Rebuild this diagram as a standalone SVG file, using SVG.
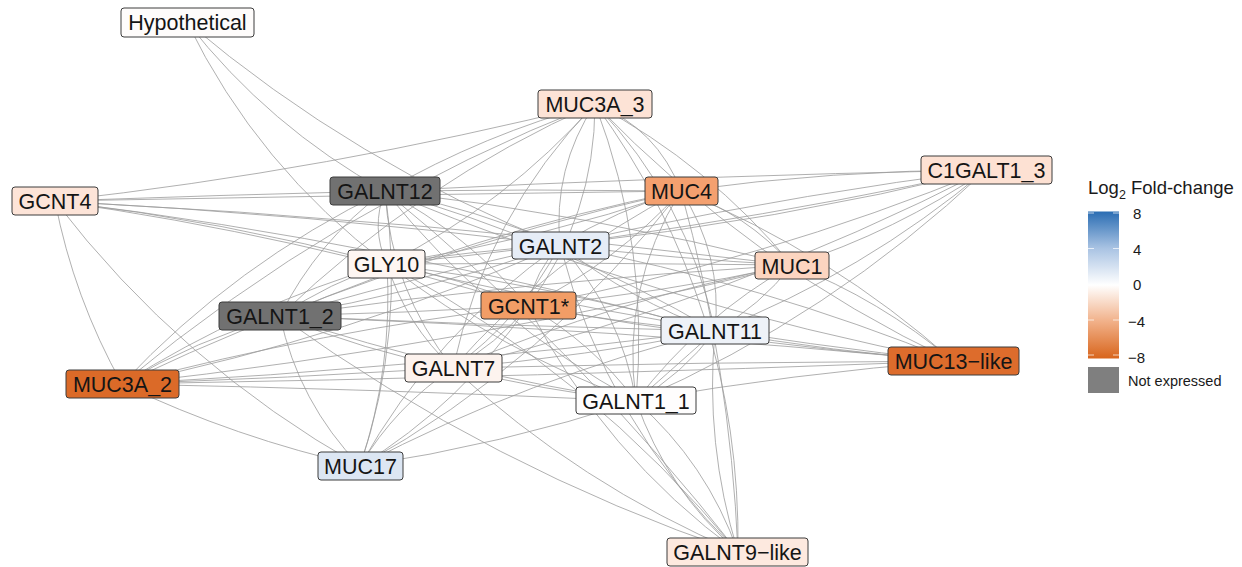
<svg xmlns="http://www.w3.org/2000/svg" width="1242" height="567" viewBox="0 0 1242 567">
<defs>
<linearGradient id="fc" x1="0" y1="0" x2="0" y2="1">
<stop offset="0" stop-color="#2a6db3"/>
<stop offset="0.25" stop-color="#a9c3e3"/>
<stop offset="0.5" stop-color="#ffffff"/>
<stop offset="0.75" stop-color="#f1b088"/>
<stop offset="1" stop-color="#d8651c"/>
</linearGradient>
<style>
.e path{fill:none;stroke:#9c9c9c;stroke-width:0.8}
.n rect{stroke:#3c3c3c;stroke-width:1}
.n text{font-family:"Liberation Sans",Arial,sans-serif;font-size:21.5px;fill:#151515;text-anchor:middle}
.lg text{font-family:"Liberation Sans",Arial,sans-serif;fill:#1a1a1a}
.tk{stroke:#ffffff;stroke-opacity:0.7;stroke-width:1}
</style>
</defs>
<rect width="1242" height="567" fill="#ffffff"/>
<g id="edges" class="e">
<path d="M187 22 Q268.9 126.6 385 191"/>
<path d="M187 22 Q257.8 167.1 387 264"/>
<path d="M187 22 Q355.1 164.2 560 245"/>
<path d="M595 104 Q328.2 170.6 55 201"/>
<path d="M385 191 Q220 195 55 201"/>
<path d="M681 191 Q368 195 55 201"/>
<path d="M55 201 Q223.2 220.8 387 264"/>
<path d="M55 201 Q295.7 234.6 528 306"/>
<path d="M55 201 Q308.3 214.1 560 245"/>
<path d="M55 201 Q424.6 220 792 265"/>
<path d="M55 201 Q389.7 242.1 715 331"/>
<path d="M55 201 Q73.8 297.9 122 384"/>
<path d="M55 201 Q180.4 364.7 360 466"/>
<path d="M595 104 Q484.4 134 385 191"/>
<path d="M385 191 Q533 189 681 191"/>
<path d="M986 170 Q685.3 176 385 191"/>
<path d="M385 191 Q475.3 208.9 560 245"/>
<path d="M385 191 Q370.4 227.9 387 264"/>
<path d="M385 191 Q317.5 240.9 280 316"/>
<path d="M385 191 Q467.8 234.5 528 306"/>
<path d="M385 191 Q390.9 290.3 453 368"/>
<path d="M385 191 Q559.2 239.4 715 331"/>
<path d="M385 191 Q489.5 321.2 636 401"/>
<path d="M385 191 Q591 214.2 792 265"/>
<path d="M385 191 Q660.4 304.8 953 361"/>
<path d="M385 191 Q405.8 331.5 360 466"/>
<path d="M385 191 Q235.5 263 122 384"/>
<path d="M385 191 Q581.5 351.9 738 552"/>
<path d="M595 104 Q506.3 203.9 387 264"/>
<path d="M595 104 Q418.7 182.1 280 316"/>
<path d="M595 104 Q552.6 168.3 560 245"/>
<path d="M595 104 Q594.9 216.1 528 306"/>
<path d="M595 104 Q486.2 215.7 453 368"/>
<path d="M595 104 Q649.9 247.8 636 401"/>
<path d="M595 104 Q687.7 200.2 715 331"/>
<path d="M595 104 Q657.2 128.5 681 191"/>
<path d="M595 104 Q709.4 165 792 265"/>
<path d="M595 104 Q750.4 265.4 953 361"/>
<path d="M595 104 Q741.2 304.1 738 552"/>
<path d="M595 104 Q335.6 205.3 122 384"/>
<path d="M986 170 Q833 170 681 191"/>
<path d="M681 191 Q616.8 209.8 560 245"/>
<path d="M681 191 Q537.2 240.4 387 264"/>
<path d="M681 191 Q474 232.5 280 316"/>
<path d="M681 191 Q615.4 262.9 528 306"/>
<path d="M681 191 Q550 257.6 453 368"/>
<path d="M681 191 Q722.8 255 715 331"/>
<path d="M681 191 Q620.4 287.8 636 401"/>
<path d="M681 191 Q746.3 213.3 792 265"/>
<path d="M681 191 Q831.4 253 953 361"/>
<path d="M681 191 Q548.4 361.1 360 466"/>
<path d="M681 191 Q390.6 255.9 122 384"/>
<path d="M681 191 Q730.1 368.3 738 552"/>
<path d="M986 170 Q775.5 221.5 560 245"/>
<path d="M986 170 Q689.3 234.9 387 264"/>
<path d="M986 170 Q763.9 261.1 528 306"/>
<path d="M986 170 Q627.5 216.4 280 316"/>
<path d="M986 170 Q863.7 272.7 715 331"/>
<path d="M986 170 Q831.2 316.1 636 401"/>
<path d="M986 170 Q895.9 231.5 792 265"/>
<path d="M986 170 Q731.3 300.8 453 368"/>
<path d="M560 245 Q473.1 250.7 387 264"/>
<path d="M560 245 Q423.2 293 280 316"/>
<path d="M560 245 Q535.2 270.9 528 306"/>
<path d="M560 245 Q521 319.1 453 368"/>
<path d="M560 245 Q630.7 300.2 715 331"/>
<path d="M560 245 Q621.1 311.8 636 401"/>
<path d="M560 245 Q675.7 259.1 792 265"/>
<path d="M560 245 Q762.3 283.3 953 361"/>
<path d="M560 245 Q434.5 332.4 360 466"/>
<path d="M560 245 Q348.4 337.7 122 384"/>
<path d="M560 245 Q606.2 423.3 738 552"/>
<path d="M387 264 Q329.8 282.3 280 316"/>
<path d="M387 264 Q459.6 277.9 528 306"/>
<path d="M387 264 Q406 324.9 453 368"/>
<path d="M387 264 Q553.5 285.3 715 331"/>
<path d="M387 264 Q500.8 351.9 636 401"/>
<path d="M387 264 Q589.5 262 792 265"/>
<path d="M387 264 Q666.9 330.7 953 361"/>
<path d="M387 264 Q393.1 367.6 360 466"/>
<path d="M387 264 Q246.3 305.8 122 384"/>
<path d="M387 264 Q591.1 373.2 738 552"/>
<path d="M792 265 Q535 280.3 280 316"/>
<path d="M792 265 Q661.2 293.3 528 306"/>
<path d="M792 265 Q617.2 299.1 453 368"/>
<path d="M792 265 Q760.2 305.8 715 331"/>
<path d="M792 265 Q700.1 317 636 401"/>
<path d="M792 265 Q880.4 299.8 953 361"/>
<path d="M792 265 Q461 346.7 122 384"/>
<path d="M528 306 Q404 313 280 316"/>
<path d="M280 316 Q363.9 350.8 453 368"/>
<path d="M280 316 Q497.5 326 715 331"/>
<path d="M280 316 Q454.4 373.6 636 401"/>
<path d="M280 316 Q617.1 329.2 953 361"/>
<path d="M280 316 Q298.5 402.5 360 466"/>
<path d="M280 316 Q196.5 339.5 122 384"/>
<path d="M280 316 Q491.3 468.3 738 552"/>
<path d="M528 306 Q496.7 344.5 453 368"/>
<path d="M528 306 Q620.9 323.3 715 331"/>
<path d="M528 306 Q591.8 342.4 636 401"/>
<path d="M528 306 Q739.1 344.2 953 361"/>
<path d="M528 306 Q461.2 404 360 466"/>
<path d="M528 306 Q322.2 330.6 122 384"/>
<path d="M528 306 Q603.8 453.9 738 552"/>
<path d="M715 331 Q585 356.6 453 368"/>
<path d="M715 331 Q682.7 374.2 636 401"/>
<path d="M715 331 Q660 380 636 401"/>
<path d="M715 331 Q833.3 351.9 953 361"/>
<path d="M715 331 Q529.3 377 360 466"/>
<path d="M715 331 Q419.5 368.2 122 384"/>
<path d="M715 331 Q704.5 443.8 738 552"/>
<path d="M953 361 Q703 362 453 368"/>
<path d="M953 361 Q793.5 373.2 636 401"/>
<path d="M953 361 Q537.5 377 122 384"/>
<path d="M453 368 Q287.5 378 122 384"/>
<path d="M122 384 Q379 389 636 401"/>
<path d="M122 384 Q236.4 438.4 360 466"/>
<path d="M453 368 Q543.4 390.6 636 401"/>
<path d="M453 368 Q395.4 406.5 360 466"/>
<path d="M453 368 Q579.6 484.6 738 552"/>
<path d="M636 401 Q500.7 445.1 360 466"/>
<path d="M636 401 Q706.8 463.1 738 552"/>
<path d="M636 401 Q667.2 489.9 738 552"/>
</g>
<g id="nodes" class="n">
<g id="n-hypothetical"><rect x="121" y="8" width="133" height="29" rx="3" fill="#fefcfb"/><text x="187.5" y="30">Hypothetical</text></g>
<g id="n-gcnt4"><rect x="12" y="187" width="86" height="28" rx="3" fill="#fde4d8"/><text x="55" y="209">GCNT4</text></g>
<g id="n-galnt12"><rect x="330" y="177" width="110" height="28" rx="3" fill="#717171"/><text x="385" y="199">GALNT12</text></g>
<g id="n-muc3a_3"><rect x="538" y="90" width="114" height="28" rx="3" fill="#fde3d6"/><text x="595" y="112">MUC3A_3</text></g>
<g id="n-muc4"><rect x="645" y="177" width="73" height="28" rx="3" fill="#f4a06f"/><text x="681.5" y="199">MUC4</text></g>
<g id="n-c1galt1_3"><rect x="921" y="156" width="131" height="28" rx="3" fill="#fde1d3"/><text x="986.5" y="178">C1GALT1_3</text></g>
<g id="n-galnt2"><rect x="512" y="232" width="97" height="27" rx="3" fill="#e6edf7"/><text x="560.5" y="254">GALNT2</text></g>
<g id="n-gly10"><rect x="348" y="250" width="77" height="28" rx="3" fill="#fef6f2"/><text x="386.5" y="272">GLY10</text></g>
<g id="n-muc1"><rect x="755" y="252" width="74" height="27" rx="3" fill="#fcd5c0"/><text x="792" y="274">MUC1</text></g>
<g id="n-galnt1_2"><rect x="219" y="302" width="122" height="28" rx="3" fill="#717171"/><text x="280" y="324">GALNT1_2</text></g>
<g id="n-gcnt1"><rect x="481" y="292" width="95" height="27" rx="3" fill="#f29d66"/><text x="528.5" y="314">GCNT1*</text></g>
<g id="n-galnt11"><rect x="661" y="317" width="108" height="27" rx="3" fill="#eef2f8"/><text x="715" y="339">GALNT11</text></g>
<g id="n-muc13like"><rect x="888" y="347" width="131" height="28" rx="3" fill="#dd6c2c"/><text x="953.5" y="369">MUC13−like</text></g>
<g id="n-muc3a_2"><rect x="66" y="370" width="113" height="28" rx="3" fill="#db6a28"/><text x="122.5" y="392">MUC3A_2</text></g>
<g id="n-galnt7"><rect x="405" y="354" width="97" height="28" rx="3" fill="#fdf3ee"/><text x="453.5" y="376">GALNT7</text></g>
<g id="n-galnt1_1"><rect x="576" y="387" width="120" height="27" rx="3" fill="#fefdfd"/><text x="636" y="409">GALNT1_1</text></g>
<g id="n-muc17"><rect x="318" y="452" width="85" height="28" rx="3" fill="#dce6f3"/><text x="360.5" y="474">MUC17</text></g>
<g id="n-galnt9like"><rect x="667" y="538" width="141" height="28" rx="3" fill="#fde9df"/><text x="737.5" y="560">GALNT9−like</text></g>
</g>
<g id="legend" class="lg">
<text x="1088" y="194" font-size="18.5">Log<tspan font-size="12.5" dy="5">2</tspan><tspan dy="-5"> Fold-change</tspan></text>
<rect x="1088" y="211.5" width="31" height="147" fill="url(#fc)"/>
<g class="tk">
<line x1="1088" y1="213" x2="1094" y2="213"/><line x1="1113" y1="213" x2="1119" y2="213"/>
<line x1="1088" y1="248.5" x2="1094" y2="248.5"/><line x1="1113" y1="248.5" x2="1119" y2="248.5"/>
<line x1="1088" y1="285" x2="1094" y2="285"/><line x1="1113" y1="285" x2="1119" y2="285"/>
<line x1="1088" y1="320" x2="1094" y2="320"/><line x1="1113" y1="320" x2="1119" y2="320"/>
<line x1="1088" y1="355" x2="1094" y2="355"/><line x1="1113" y1="355" x2="1119" y2="355"/>
</g>
<text x="1133" y="219" font-size="15">8</text>
<text x="1133" y="255" font-size="15">4</text>
<text x="1133" y="290" font-size="15">0</text>
<text x="1128" y="327" font-size="15">−4</text>
<text x="1128" y="363" font-size="15">−8</text>
<rect x="1088" y="367" width="31" height="26" fill="#7f7f7f"/>
<text x="1128" y="386" font-size="14.5">Not expressed</text>
</g>
</svg>
